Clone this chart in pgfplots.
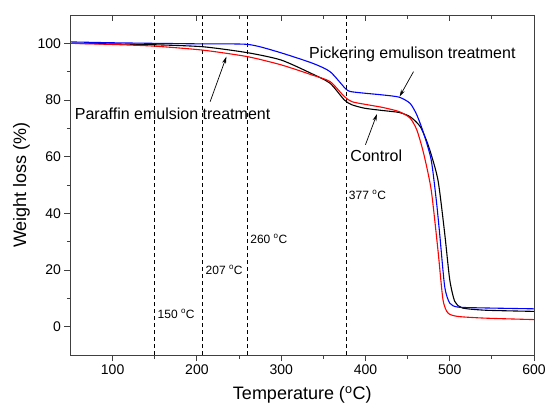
\documentclass[border=0pt]{standalone}
\usepackage{fontspec}
\setmainfont{Liberation Sans}
\usepackage{pgfplots}
\pgfplotsset{compat=1.18}
\usetikzlibrary{arrows.meta}
\begin{document}
\begin{tikzpicture}
\pgfplotsset{
  common/.style={
    scale only axis, width=463.5pt, height=340pt,
    xmin=50, xmax=600, ymin=-10, ymax=110,
    xtick={100,200,...,600}, minor x tick num=1,
    axis line style={draw=black!75, line width=0.9pt},
    tick style={black!75, line width=0.9pt},
    major tick length=6pt, minor tick length=3.5pt,
  }
}
\begin{axis}[
  common, name=main,
  ytick={0,20,...,100}, minor y tick num=1,
  tick align=outside, xtick pos=left, ytick pos=left,
  /pgf/number format/assume math mode=true,
  ticklabel style={font=\fontsize{14}{16}\selectfont},
  xlabel={Temperature (\textsuperscript{o}C)},
  ylabel={Weight loss (\%)},
  label style={font=\fontsize{18}{20}\selectfont},
  xlabel style={yshift=-5pt},
  ylabel style={yshift=1pt},
]
% dashed markers
\addplot[black, line width=0.7pt, dash pattern=on 4pt off 3pt] coordinates {(150,-10) (150,110)};
\addplot[black, line width=0.7pt, dash pattern=on 4pt off 3pt] coordinates {(207,-10) (207,110)};
\addplot[black, line width=0.7pt, dash pattern=on 4pt off 3pt] coordinates {(260,-10) (260,110)};
\addplot[black, line width=0.7pt, dash pattern=on 4pt off 3pt] coordinates {(377,-10) (377,110)};
% Control
\addplot[black, line width=1.1pt, smooth, tension=0.4] coordinates {
(50,100.0) (100,99.8) (150,99.5) (207,98.8) (260,96.7) (300,94.1) (337,89.2) (358,85.9)
(375,80.0) (384,78.3) (399,77.1) (420,76.3) (440,75.6) (453,74.1) (465,70.6) (475,63.6)
(486,51.8) (494,33.0) (500,16.6) (506,8.9) (515,6.6) (543,5.8) (600,5.4)};
% Paraffin emulsion treatment
\addplot[red, line width=1.1pt, smooth, tension=0.4] coordinates {
(50,100.0) (100,99.6) (150,99.0) (207,97.6) (260,95.3) (300,92.4) (337,88.8) (358,86.5)
(375,81.2) (384,79.4) (399,78.5) (420,77.4) (440,75.9) (453,73.6) (461,69.4) (469,61.2)
(478,48.3) (486,27.1) (492,9.5) (498,4.8) (510,3.6) (543,3.0) (600,2.5)};
% Pickering emulsion treatment
\addplot[blue, line width=1.1pt, smooth, tension=0.4] coordinates {
(50,100.5) (100,100.2) (150,100.0) (207,99.8) (261,99.6) (296,97.0) (337,93.0) (358,90.0)
(376,84.1) (382,83.0) (399,82.4) (420,81.8) (440,81.0) (453,78.8) (461,74.7) (469,68.3)
(478,58.9) (484,44.8) (488,33.0) (494,14.2) (500,8.3) (510,6.9) (543,6.6) (600,6.3)};
% temperature labels
\node[anchor=west, font=\fontsize{12}{14}\selectfont, inner sep=1pt] at (axis cs:152,4.5) {150 \textsuperscript{o}C};
\node[anchor=west, font=\fontsize{12}{14}\selectfont, inner sep=1pt] at (axis cs:209,20) {207 \textsuperscript{o}C};
\node[anchor=west, font=\fontsize{12}{14}\selectfont, inner sep=1pt] at (axis cs:262,31) {260 \textsuperscript{o}C};
\node[anchor=west, font=\fontsize{12}{14}\selectfont, inner sep=1pt] at (axis cs:379,46.5) {377 \textsuperscript{o}C};
% annotations
\node[anchor=west, font=\fontsize{16}{18}\selectfont, inner sep=0pt] at (axis cs:55,75) {Paraffin emulsion treatment};
\node[anchor=west, font=\fontsize{16}{18}\selectfont, inner sep=0pt] at (axis cs:333,96.2) {Pickering emulison treatment};
\node[anchor=west, font=\fontsize{16}{18}\selectfont, inner sep=0pt] at (axis cs:382,60.3) {Control};
\draw[-{Stealth[length=7pt,width=4pt]}, line width=0.7pt] (axis cs:215.7,79.4) -- (axis cs:235,95.3);
\draw[-{Stealth[length=7pt,width=4pt]}, line width=0.7pt] (axis cs:457,90) -- (axis cs:440.5,81.2);
\draw[-{Stealth[length=7pt,width=4pt]}, line width=0.7pt] (axis cs:400,64.2) -- (axis cs:413.6,75);
\end{axis}
\begin{axis}[
  common,
  xtick pos=right, tick align=inside,
  xticklabels={}, ytick=\empty,
]
\end{axis}
\pgfresetboundingbox
\path ([shift={(-70.5pt,-50pt)}]main.south west) rectangle ([shift={(11pt,15pt)}]main.north east);
\end{tikzpicture}
\end{document}
